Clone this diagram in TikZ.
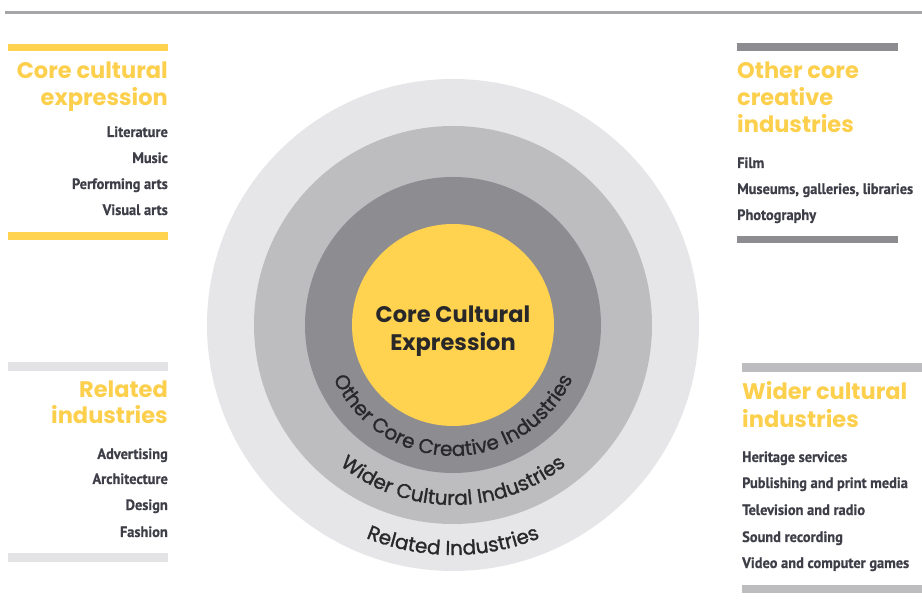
\documentclass[tikz,border=0pt]{standalone}
\usepackage{fontspec}
\setmainfont{Poppins}
\newfontfamily\listfont[FakeStretch=0.96, FakeBold=0.6]{PT Sans}
\newfontfamily\ringfont[FakeBold=1.2]{Poppins}
\usetikzlibrary{decorations.text}
\definecolor{headyellow}{RGB}{252,207,76}
\definecolor{coreyellow}{RGB}{255,210,80}
\definecolor{ringA}{RGB}{230,230,232}
\definecolor{ringB}{RGB}{189,189,192}
\definecolor{ringC}{RGB}{141,141,145}
\definecolor{barlight}{RGB}{227,227,229}
\definecolor{listgray}{RGB}{62,62,72}
\definecolor{ringtext}{RGB}{40,40,42}
\definecolor{topline}{RGB}{166,166,168}
\tikzset{
  hd/.style={font=\fontsize{22.5}{22.5}\selectfont\bfseries, text=headyellow, inner sep=0pt},
  li/.style={font=\listfont\fontsize{15}{15}\selectfont\bfseries, text=listgray, inner sep=0pt},
  ringlabel/.style={decorate, decoration={text along path, text align=center, text color=ringtext, text={#1}}}
}
\begin{document}
\begin{tikzpicture}[x=1pt,y=1pt]
\useasboundingbox (0,0) rectangle (922,615);
\fill[white] (0,0) rectangle (922,615);
% top rule
\draw[topline, line width=3pt] (5,602) -- (922,602);

% circles
\coordinate (c) at (453,290);
\fill[ringA] (c) circle[radius=246pt];
\fill[ringB] (c) circle[radius=199pt];
\fill[ringC] (c) circle[radius=148pt];
\fill[coreyellow] (c) circle[radius=101pt];
\node[align=center, font=\fontsize{22.5}{28}\selectfont\bfseries, text=ringtext, inner sep=0pt] (core) at (453,284) {Core Cultural\\Expression};

\path[ringlabel={|\ringfont\fontsize{20}{20}\selectfont|Other Core Creative Industries}] (c) ++(180:131pt) arc[start angle=180, end angle=360, radius=131pt];
\path[ringlabel={|\ringfont\fontsize{20}{20}\selectfont|Wider Cultural Industries}] (c) ++(180:180pt) arc[start angle=180, end angle=360, radius=180pt];
\path[ringlabel={|\ringfont\fontsize{20}{20}\selectfont|Related Industries}] (c) ++(180:230pt) arc[start angle=180, end angle=360, radius=230pt];

% top-left block
\fill[coreyellow] (8,564) rectangle (168,571);
\node[hd, anchor=base east] (h1a) at (168,536) {Core cultural};
\node[hd, anchor=base east] (h1b) at (168,509) {expression};
\node[li, anchor=base east] (l1a) at (168,478) {Literature};
\node[li, anchor=base east] (l1b) at (168,452) {Music};
\node[li, anchor=base east] (l1c) at (168,426) {Performing arts};
\node[li, anchor=base east] (l1d) at (168,400) {Visual arts};
\fill[coreyellow] (8,375) rectangle (168,383);

% top-right block
\fill[ringC] (737,564) rectangle (898,572);
\node[hd, anchor=base west] (h2a) at (737,536) {Other core};
\node[hd, anchor=base west] (h2b) at (737,509) {creative};
\node[hd, anchor=base west] (h2c) at (737,482) {industries};
\node[li, anchor=base west] (l2a) at (737,447) {Film};
\node[li, anchor=base west] (l2b) at (737,421) {Museums, galleries, libraries};
\node[li, anchor=base west] (l2c) at (737,395) {Photography};
\fill[ringC] (737,372) rectangle (898,379);

% bottom-left block
\fill[barlight] (8,244) rectangle (168,253);
\node[hd, anchor=base east] (h3a) at (168,217) {Related};
\node[hd, anchor=base east] (h3b) at (168,191) {industries};
\node[li, anchor=base east] (l3a) at (168,156) {Advertising};
\node[li, anchor=base east] (l3b) at (168,131) {Architecture};
\node[li, anchor=base east] (l3c) at (168,105) {Design};
\node[li, anchor=base east] (l3d) at (168,78) {Fashion};
\fill[barlight] (8,53) rectangle (168,62);

% bottom-right block
\fill[ringB] (742,243) rectangle (922,252);
\node[hd, anchor=base west] (h4a) at (742,215) {Wider cultural};
\node[hd, anchor=base west] (h4b) at (742,187) {industries};
\node[li, anchor=base west] (l4a) at (742,153) {Heritage services};
\node[li, anchor=base west] (l4b) at (742,127) {Publishing and print media};
\node[li, anchor=base west] (l4c) at (742,100) {Television and radio};
\node[li, anchor=base west] (l4d) at (742,73) {Sound recording};
\node[li, anchor=base west] (l4e) at (742,47) {Video and computer games};
\fill[ringB] (742,22) rectangle (922,30);
\end{tikzpicture}
\end{document}
